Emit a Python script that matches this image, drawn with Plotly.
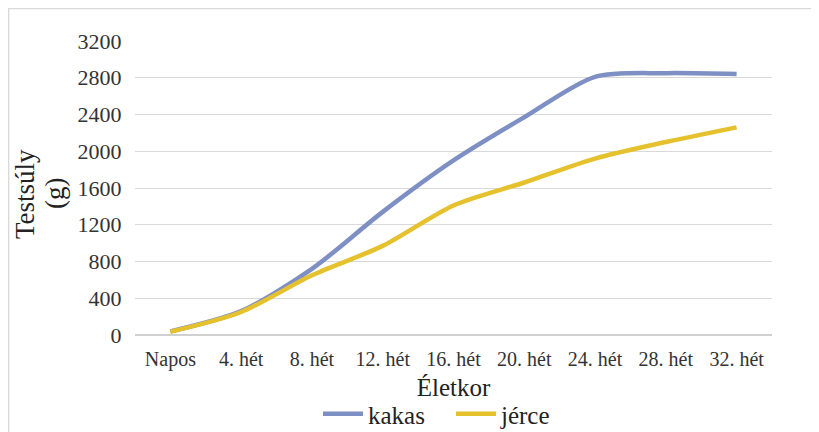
import plotly.graph_objects as go

categories = ["Napos", "4. hét", "8. hét", "12. hét", "16. hét", "20. hét", "24. hét", "28. hét", "32. hét"]
kakas = [40, 260, 720, 1340, 1900, 2370, 2810, 2850, 2840]
jerce = [35, 250, 650, 970, 1410, 1660, 1920, 2100, 2260]
y_ticks = [0, 400, 800, 1200, 1600, 2000, 2400, 2800, 3200]

FONT = "Liberation Serif, Times New Roman, serif"
# page body has an 8px margin, so the figure is 8px smaller than the window
W, H = 811, 424
L, R, T, B = 127, 47, 33, 97
PW, PH = W - L - R, H - T - B

fig = go.Figure()
fig.add_trace(go.Scatter(x=categories, y=kakas, name="kakas", mode="lines",
                         line=dict(color="#7E8FC4", width=4.5, shape="spline", smoothing=0.8)))
fig.add_trace(go.Scatter(x=categories, y=jerce, name="jérce", mode="lines",
                         line=dict(color="#E5C12E", width=4.5, shape="spline", smoothing=0.8)))

fig.update_layout(
    width=W, height=H,
    margin=dict(l=L, r=R, t=T, b=B, autoexpand=False),
    paper_bgcolor="white", plot_bgcolor="white",
    font=dict(family=FONT, color="#333333", size=16),
    showlegend=True,
    legend=dict(orientation="h", x=(310 - L) / PW, xanchor="left", y=-(406 - (T + PH)) / PH, yanchor="middle",
                font=dict(family=FONT, size=25, color="#222222"),
                traceorder="normal", itemwidth=40, tracegroupgap=0,
                entrywidth=78, entrywidthmode="pixels"),
    xaxis=dict(type="category", range=[-0.5, 8.5], showgrid=False, zeroline=False,
               showline=False, ticks="outside", ticklen=6, tickcolor="rgba(0,0,0,0)",
               tickfont=dict(family=FONT, size=20, color="#333333"),
               automargin=False,
               title=dict(text="Életkor", font=dict(family=FONT, size=25, color="#222222"), standoff=8)),
    yaxis=dict(range=[0, 3200], tickvals=y_ticks, showgrid=True, gridcolor="#D9D9D9", gridwidth=1.3,
               zeroline=True, zerolinecolor="#D0D0D0", zerolinewidth=1.5, showline=False,
               ticks="outside", ticklen=8, tickcolor="rgba(0,0,0,0)", automargin=False,
               tickfont=dict(family=FONT, size=22, color="#333333")),
    annotations=[
        dict(text="Testsúly", textangle=-90, xref="paper", yref="paper",
             x=(17 - L) / PW, y=1 - (186 - T) / PH, xanchor="center", yanchor="middle",
             showarrow=False, font=dict(family=FONT, size=27, color="#222222")),
        dict(text="(g)", textangle=-90, xref="paper", yref="paper",
             x=(47 - L) / PW, y=1 - (186 - T) / PH, xanchor="center", yanchor="middle",
             showarrow=False, font=dict(family=FONT, size=27, color="#222222")),
    ],
    shapes=[
        dict(type="line", xref="paper", yref="paper", x0=-L / PW + 0.6 / PW, x1=-L / PW + 0.6 / PW,
             y0=-B / PH, y1=1 + T / PH, line=dict(color="#D9D9D9", width=1.5), layer="below"),
        dict(type="line", xref="paper", yref="paper", x0=-L / PW, x1=1 + R / PW,
             y0=1 + T / PH - 0.6 / PH, y1=1 + T / PH - 0.6 / PH, line=dict(color="#D9D9D9", width=1.5),
             layer="below"),
    ],
)

fig.write_html("out.html")
